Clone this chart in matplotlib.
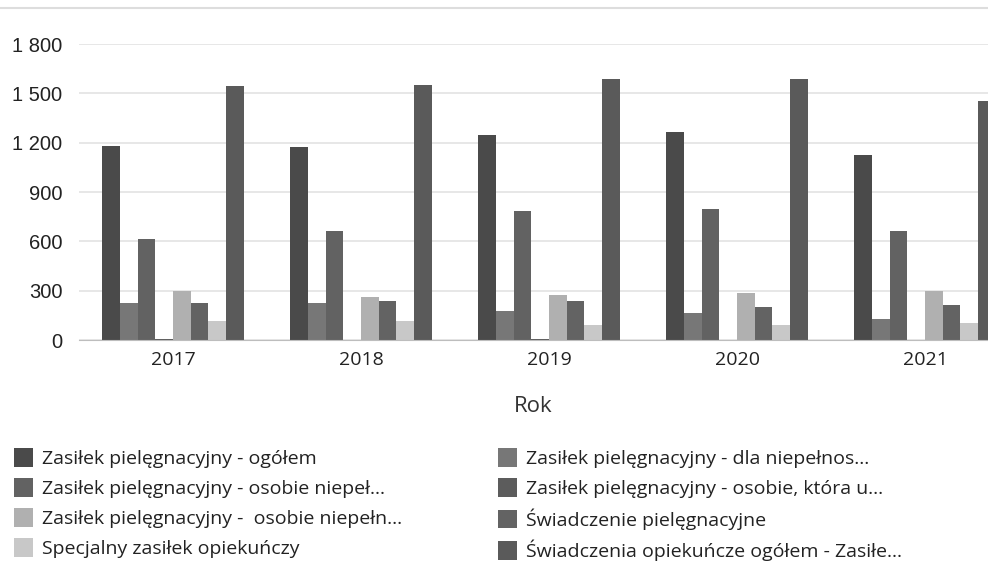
import matplotlib
matplotlib.use("Agg")
import matplotlib.pyplot as plt
from matplotlib.lines import Line2D
from matplotlib.ticker import FuncFormatter
import numpy as np

years = ["2017", "2018", "2019", "2020", "2021"]
series_names = [
    "Zasiłek pielęgnacyjny - ogółem",
    "Zasiłek pielęgnacyjny - dla niepełnos...",
    "Zasiłek pielęgnacyjny - osobie niepeł...",
    "Zasiłek pielęgnacyjny - osobie, która u...",
    "Zasiłek pielęgnacyjny -  osobie niepełn...",
    "Świadczenie pielęgnacyjne",
    "Specjalny zasiłek opiekuńczy",
    "Świadczenia opiekuńcze ogółem - Zasiłe...",
]
ogolem = [1182, 1176, 1248, 1262, 1123]
dla_niepelnos = [226, 226, 176, 162, 125]
osobie_niepel = [616, 662, 784, 794, 661]
osobie_ktora = [8, 3, 5, 2, 2]
osobie_niepeln = [299, 262, 273, 287, 297]
swiadczenie_piel = [226, 238, 238, 198, 212]
specjalny = [115, 113, 91, 89, 101]
swiadczenia_ogolem = [1544, 1551, 1588, 1588, 1455]
values = [ogolem, dla_niepelnos, osobie_niepel, osobie_ktora,
          osobie_niepeln, swiadczenie_piel, specjalny, swiadczenia_ogolem]
colors = ["#4a4a4a", "#777777", "#626262", "#5c5c5c",
          "#b0b0b0", "#636363", "#c8c8c8", "#5a5a5a"]

W, H = 988, 562
fig = plt.figure(figsize=(W / 100, H / 100), dpi=100)
ax = fig.add_axes([79 / W, 1 - 340 / H, (1019 - 79) / W, (340 - 44) / H])

x = np.arange(len(years))
n = len(values)
bw = 0.755 / n
for i, (vals, c) in enumerate(zip(values, colors)):
    ax.bar(x - 0.755 / 2 + bw * (i + 0.5), vals, width=bw, color=c,
           label=series_names[i], linewidth=0)

ax.set_xlim(-0.5, len(years) - 0.5)
ax.set_ylim(0, 1800)
ax.set_yticks(range(0, 1801, 300))
ax.yaxis.set_major_formatter(FuncFormatter(lambda v, p: f"{int(v):,}".replace(",", " ")))
ax.set_xticks(x)
ax.set_xticklabels(years)
ax.grid(axis="y", color="#e3e3e3", linewidth=1.2)
ax.set_axisbelow(True)
for s in ["top", "right", "left"]:
    ax.spines[s].set_visible(False)
ax.spines["bottom"].set_color("#bdbdbd")
ax.tick_params(axis="both", length=0, colors="#222222")
ax.tick_params(axis="y", labelsize=14.5, pad=12)
ax.tick_params(axis="x", labelsize=14, pad=8)
for t in ax.get_yticklabels():
    t.set_family("Liberation Sans")
for t in ax.get_xticklabels():
    t.set_family("Open Sans")
ax.set_xlabel("Rok", fontsize=16, family="Open Sans", color="#333333")
ax.xaxis.set_label_coords((533 - 79) / (1019 - 79), -(396 - 340) / (340 - 44))
ax.xaxis.label.set_va("top")

fig.add_artist(Line2D([0, 1], [1 - 8 / H, 1 - 8 / H], color="#dddddd", linewidth=1.5))

handles, labels = ax.get_legend_handles_labels()
order = [0, 2, 4, 6, 1, 3, 5, 7]
leg = fig.legend([handles[i] for i in order], [labels[i] for i in order],
                 ncol=2, loc="upper left", bbox_to_anchor=(14 / W, 1 - 448 / H),
                 frameon=False, prop={"family": "Open Sans", "size": 14},
                 handlelength=1.0, handleheight=1.1, handletextpad=0.45,
                 labelspacing=0.52, columnspacing=4.9, borderaxespad=0,
                 borderpad=0)
for t in leg.get_texts():
    t.set_color("#222222")

fig.savefig("out.png", dpi=100)
